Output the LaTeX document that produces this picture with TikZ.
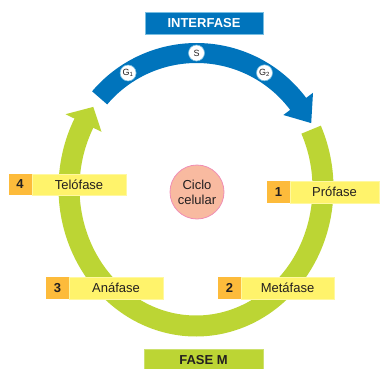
\documentclass[tikz,border=0pt]{standalone}
\usepackage{fontspec}
\setmainfont{Liberation Sans}
\definecolor{cycblue}{RGB}{0,116,188}
\definecolor{cycbluebord}{RGB}{120,190,225}
\definecolor{ringgreen}{RGB}{188,213,52}
\definecolor{greenbord}{RGB}{205,225,110}
\definecolor{labyellow}{RGB}{255,243,107}
\definecolor{labyellowbord}{RGB}{255,248,160}
\definecolor{numorange}{RGB}{253,187,59}
\definecolor{salmon}{RGB}{248,186,160}
\definecolor{pinkbord}{RGB}{240,141,180}
\definecolor{txtdark}{RGB}{35,31,32}
\begin{document}
\begin{tikzpicture}[x=1pt,y=-1pt,
  font=\fontsize{13}{15}\selectfont,
  numbox/.style={inner sep=0pt, outer sep=0pt, minimum width=23pt, minimum height=22pt,
    fill=numorange, text=txtdark, font=\fontsize{13}{15}\selectfont\bfseries},
  labbox/.style={inner sep=0pt, outer sep=0pt, minimum height=22pt,
    fill=labyellow, draw=labyellowbord, line width=0.6pt, text=txtdark},
  phasebox/.style={inner sep=0pt, outer sep=0pt, minimum width=118pt, minimum height=22pt,
    font=\fontsize{13}{15}\selectfont\bfseries},
  subcirc/.style={circle, inner sep=0pt, minimum size=16pt, fill=white,
    draw=cycbluebord, line width=0.6pt, text=txtdark, font=\fontsize{9}{10}\selectfont}
]
\useasboundingbox (0,0) rectangle (380,368);

% green ring (Fase M)
\draw[ringgreen, line width=21pt]
  plot[domain=-25:209, samples=150] ({196+127*cos(\x)},{188+138*sin(\x)});
\fill[ringgreen] (65.5,114.2) -- (101.5,131.8) -- (93.3,106.9) -- cycle;

% blue arc (Interfase)
\draw[cycblue, line width=20pt]
  plot[domain=220.3:324, samples=80] ({196.5+127*cos(\x)},{180+127*sin(\x)});
\fill[cycblue] (283.4,115.0) -- (313.0,92.8) -- (311.2,123.1) -- cycle;

% sub-phase markers
\node[subcirc] (g1) at (128.1,73.0) {G\textsubscript{1}};
\node[subcirc] (s) at (196.5,53) {S};
\node[subcirc] (g2) at (264.5,72.8) {G\textsubscript{2}};

% titles
\node[phasebox, fill=cycblue, draw=cycbluebord, line width=0.8pt, text=white]
  (interfase) at (204,23.5) {INTERFASE};
\node[phasebox, fill=ringgreen, draw=greenbord, line width=0.8pt, text=txtdark,
  minimum width=119pt] (fasem) at (203.5,360) {FASE M};

% centre
\node[circle, inner sep=0pt, minimum size=54pt, fill=salmon, draw=pinkbord,
  line width=0.8pt, align=center, text=txtdark] (ciclo) at (197,192)
  {Ciclo\\celular};

% phases
\node[numbox, minimum height=21pt] (n4) at (20,184.5) {4};
\node[labbox, minimum width=94pt, minimum height=21pt] (telo) at (79,184.5) {Telófase};
\node[numbox] (n1) at (278.5,192) {1};
\node[labbox, minimum width=89pt] (pro) at (334.5,192) {Prófase};
\node[numbox] (n3) at (57.5,288) {3};
\node[labbox, minimum width=94pt] (ana) at (116,288) {Anáfase};
\node[numbox] (n2) at (229.5,288) {2};
\node[labbox, minimum width=93pt] (meta) at (287.5,288) {Metáfase};
\end{tikzpicture}
\end{document}
